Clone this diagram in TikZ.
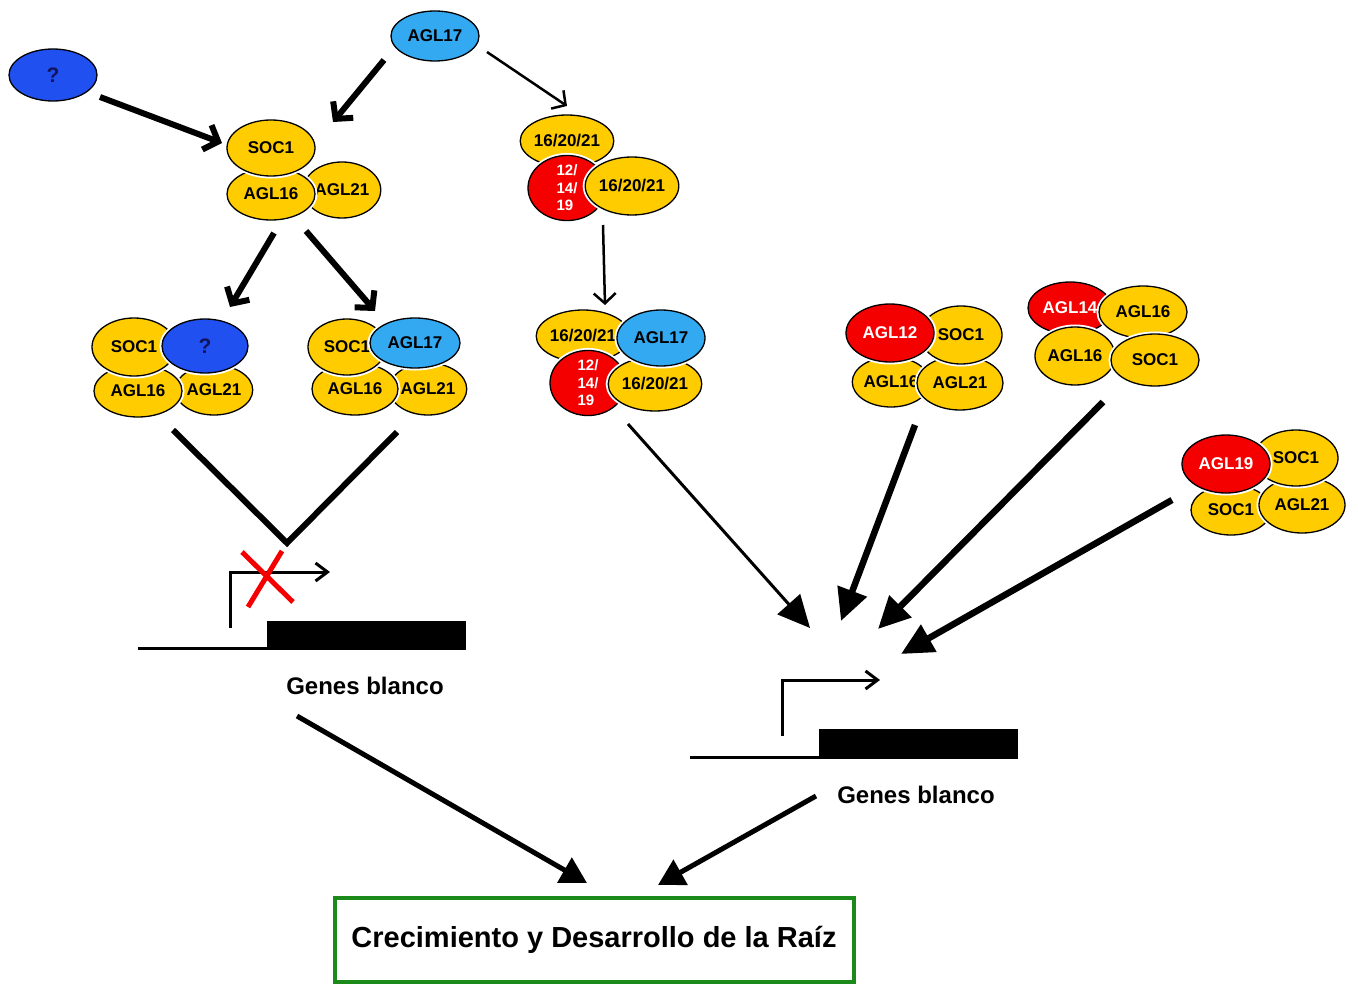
\documentclass[tikz,border=0pt]{standalone}
\usepackage{fontspec}
\setmainfont{Liberation Sans}
\usetikzlibrary{shapes.geometric, arrows.meta, positioning}
\definecolor{protYellow}{HTML}{FFCC00}
\definecolor{protRed}{HTML}{F40000}
\definecolor{protBlue}{HTML}{33A9F2}
\definecolor{unkBlue}{HTML}{2150F0}
\definecolor{unkText}{HTML}{14145A}
\definecolor{boxGreen}{HTML}{1B8A1B}

\begin{document}
\begin{tikzpicture}[
    x=1pt, y=-1pt,
    % Protein Ellipse Style
    prot/.style={
        ellipse,
        draw=black,
        line width=1.3pt,
        preaction={draw=white, line width=5pt},
        inner sep=0pt,
        minimum width=88pt,
        minimum height=54pt,
        font=\fontsize{17}{20}\selectfont\bfseries
    },
    yelprot/.style={prot, fill=protYellow},
    redprot/.style={prot, fill=protRed, text=white},
    blueprot/.style={prot, fill=protBlue},
    unkprot/.style={prot, fill=unkBlue, text=unkText, font=\fontsize{21}{24}\selectfont\bfseries},
    % Stacked red label (12/14/19)
    redstack/.style={
        redprot,
        align=left,
        font=\fontsize{15}{17.5}\selectfont\bfseries
    },
    % Arrows
    thickarrow/.style={line width=6pt, -{Straight Barb[length=12pt, width=26pt]}},
    thinarrow/.style={line width=2.5pt, -{Straight Barb[length=10pt, width=22pt]}},
    bigarrow/.style={line width=6.5pt, -{Triangle[length=32pt, width=30pt]}},
    downarrow/.style={line width=5pt, -{Triangle[length=26pt, width=28pt]}},
    % Gene Drawing
    geneline/.style={draw=black, line width=3pt},
    genebar/.style={rectangle, fill=black, inner sep=0pt, anchor=south west},
    promoter/.style={line width=3pt, -{Straight Barb[length=12pt, width=18pt]}},
    genelabel/.style={font=\fontsize{24}{28}\selectfont\bfseries},
    % Outcome Box
    outcome/.style={
        rectangle,
        draw=boxGreen,
        line width=4pt,
        minimum width=519pt,
        minimum height=84pt,
        font=\fontsize{29}{32}\selectfont\bfseries
    }
]
\useasboundingbox (0,0) rectangle (1358,987);

% --- UPSTREAM REGULATORS ---
\node[unkprot, minimum height=52pt] (Unknown) at (53,75) {?};
\node[blueprot, minimum height=50pt] (Agl17) at (435,36) {AGL17};

% --- COMPLEX 1: SOC1/AGL16/AGL21 ---
\node[yelprot, minimum width=74pt, minimum height=56pt] (C1Agl21) at (342,190) {AGL21};
\node[yelprot, minimum height=52pt] (C1Agl16) at (271,194) {AGL16};
\node[yelprot, minimum height=56pt] (C1Soc1) at (271,148) {SOC1};

% --- COMPLEX 2: with unknown partner ---
\node[yelprot, minimum width=72pt, minimum height=50pt] (C2Agl21) at (214,390) {AGL21};
\node[yelprot, minimum height=52pt] (C2Agl16) at (138,391) {AGL16};
\node[yelprot, minimum width=84pt, minimum height=58pt] (C2Soc1) at (134,347) {SOC1};
\node[unkprot, minimum width=86pt, minimum height=54pt] (C2Unk) at (205,346) {?};

% --- COMPLEX 3: with AGL17 ---
\node[yelprot, minimum width=72pt, minimum height=52pt] (C3Agl21) at (428,389) {AGL21};
\node[yelprot, minimum width=86pt, minimum height=52pt] (C3Agl16) at (355,389) {AGL16};
\node[yelprot, minimum width=78pt, minimum height=56pt] (C3Soc1) at (347,347) {SOC1};
\node[blueprot, minimum width=90pt, minimum height=50pt] (C3Agl17) at (415,343) {AGL17};

% --- COMPLEX 4: 16/20/21 + 12/14/19 ---
\node[yelprot, minimum height=52pt] (C4Top) at (567,141) {16/20/21};
\node[redstack, minimum width=78pt, minimum height=58pt] (C4Red) at (567,188) {12/\\14/\\19};
\node[yelprot, minimum width=90pt, minimum height=58pt] (C4Right) at (632,186) {16/20/21};

% --- COMPLEX 5: 16/20/21 + 12/14/19 + AGL17 ---
\node[yelprot, minimum width=86pt, minimum height=52pt] (C5Top) at (583,336) {16/20/21};
\node[redstack, minimum width=76pt, minimum height=58pt] (C5Red) at (588,383) {12/\\14/\\19};
\node[yelprot, minimum width=90pt, minimum height=54pt] (C5Right) at (655,384) {16/20/21};
\node[blueprot, minimum width=88pt, minimum height=56pt] (C5Agl17) at (661,338) {AGL17};

% --- COMPLEX 6: AGL12 ---
\node[yelprot, minimum width=70pt, minimum height=50pt] (C6Agl16) at (891,382) {AGL16};
\node[yelprot, minimum width=86pt, minimum height=54pt] (C6Agl21) at (960,383) {AGL21};
\node[yelprot, minimum width=82pt, minimum height=58pt] (C6Soc1) at (961,335) {SOC1};
\node[redprot, minimum width=88pt, minimum height=58pt] (C6Agl12) at (890,333) {AGL12};

% --- COMPLEX 7: AGL14 ---
\node[redprot, minimum width=84pt, minimum height=52pt] (C7Agl14) at (1070,308) {AGL14};
\node[yelprot, minimum width=88pt, minimum height=52pt] (C7Agl16a) at (1143,312) {AGL16};
\node[yelprot, minimum width=80pt, minimum height=58pt] (C7Agl16b) at (1075,356) {AGL16};
\node[yelprot, minimum width=88pt, minimum height=52pt] (C7Soc1) at (1155,360) {SOC1};

% --- COMPLEX 8: AGL19 ---
\node[yelprot, minimum width=80pt, minimum height=50pt] (C8Soc1b) at (1231,510) {SOC1};
\node[yelprot, minimum width=86pt, minimum height=56pt] (C8Agl21) at (1302,505) {AGL21};
\node[yelprot, minimum width=84pt, minimum height=56pt] (C8Soc1a) at (1296,458) {SOC1};
\node[redprot, minimum width=88pt, minimum height=58pt] (C8Agl19) at (1226,464) {AGL19};

% --- REPRESSED TARGET GENE (left) ---
\node[genebar, minimum width=199pt, minimum height=27pt] (Bar1) at (267,648) {};
\coordinate (Line1) at (138,648);
\coordinate (Tss1) at (230,628);
\coordinate (Tip1) at (330,572);
\draw[geneline] (Line1) -- (Bar1.south east);
\draw[promoter] (Tss1) |- (Tip1);
\node[genelabel] (Label1) at (365,686) {Genes blanco};
% red cross
\draw[protRed, line width=5pt] (242,552) -- (293,602) (282,551) -- (248,607);
% repression V
\coordinate (VLeft) at (173,430);
\coordinate (VRight) at (397,432);
\coordinate (VBottom) at (287,543);
\draw[line width=6pt] (VLeft) -- (VBottom) -- (VRight);

% --- ACTIVATED TARGET GENE (right) ---
\node[genebar, minimum width=199pt, minimum height=28pt] (Bar2) at (819,757) {};
\coordinate (Line2) at (690,757);
\coordinate (Tss2) at (782,736);
\coordinate (Tip2) at (880,680);
\draw[geneline] (Line2) -- (Bar2.south east);
\draw[promoter] (Tss2) |- (Tip2);
\node[genelabel] (Label2) at (916,795) {Genes blanco};

% --- OUTCOME ---
\node[outcome] (Outcome) at (594,940) {\raisebox{-3pt}{Crecimiento y Desarrollo de la Raíz}};

% --- CONNECTIONS ---
\coordinate (UnkOut) at (100,97);
\coordinate (C1InL) at (222,143);
\coordinate (AglOutL) at (384,60);
\coordinate (C1InR) at (333,122);
\coordinate (AglOutR) at (487,52);
\coordinate (C4In) at (567,106);
\draw[thickarrow] (UnkOut) -- (C1InL);
\draw[thickarrow] (AglOutL) -- (C1InR);
\draw[thinarrow] (AglOutR) -- (C4In);

\coordinate (C1OutL) at (274,233);
\coordinate (C2In) at (230,307);
\coordinate (C1OutR) at (306,231);
\coordinate (C3In) at (375,311);
\draw[thickarrow] (C1OutL) -- (C2In);
\draw[thickarrow] (C1OutR) -- (C3In);

\coordinate (C4Out) at (603,225);
\coordinate (C5In) at (605,305);
\draw[thinarrow] (C4Out) -- (C5In);

% arrows onto the active promoter
\coordinate (C5Out) at (628,424);
\coordinate (C6Out) at (915,425);
\coordinate (C7Out) at (1103,402);
\coordinate (C8Out) at (1172,500);
\draw[bigarrow, line width=3pt] (C5Out) -- (810,628) coordinate (T5);
\draw[bigarrow] (C6Out) -- (841,621) coordinate (T6);
\draw[bigarrow] (C7Out) -- (878,629) coordinate (T7);
\draw[bigarrow] (C8Out) -- (901,654) coordinate (T8);

% arrows to the outcome box
\coordinate (G1Out) at (297,716);
\coordinate (G2Out) at (816,796);
\draw[downarrow] (G1Out) -- (587,883) coordinate (In1);
\draw[downarrow] (G2Out) -- (658,885) coordinate (In2);

\end{tikzpicture}
\end{document}
